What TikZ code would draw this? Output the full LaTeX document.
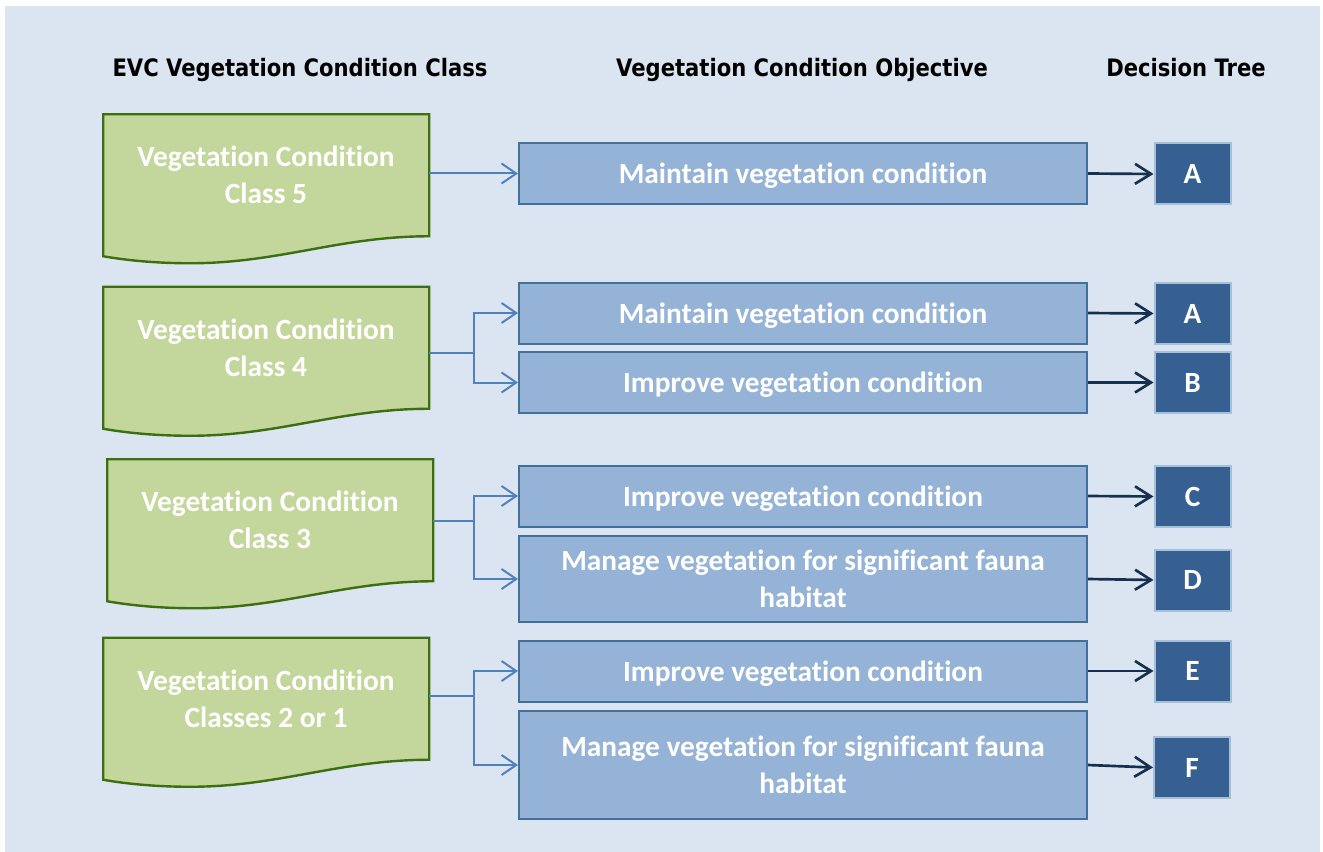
\documentclass[tikz,border=0pt]{standalone}
\usepackage{fontspec}
\setmainfont{Carlito}[Ligatures={NoCommon,NoContextual}]
\newfontfamily\headfont[FakeStretch=0.88]{DejaVu Sans}
\usetikzlibrary{arrows.meta,backgrounds}

\definecolor{bgblue}{HTML}{DBE5F1}
\definecolor{docfill}{HTML}{C3D69B}
\definecolor{docline}{HTML}{3D6E10}
\definecolor{objfill}{HTML}{95B3D7}
\definecolor{objline}{HTML}{41709A}
\definecolor{treefill}{HTML}{366092}
\definecolor{treeline}{HTML}{A5C1DA}
\definecolor{linkblue}{HTML}{4F81BD}
\definecolor{navy}{HTML}{17304F}

\tikzset{
  headtext/.style={anchor=base, font=\headfont\bfseries\fontsize{18}{21}\selectfont},
  boxtext/.style={text=white, inner sep=0pt, align=center,
    font=\bfseries\fontsize{22}{27.5}\selectfont},
  docnode/.style={boxtext, minimum width=244.5pt, minimum height=91.5pt},
  docshape/.style={draw=docline, line width=1.8pt, fill=docfill, line join=miter},
  objbox/.style={boxtext, draw=objline, line width=1.5pt, fill=objfill,
    minimum width=426pt, minimum height=45.75pt, text depth=0pt},
  treebox/.style={boxtext, draw=treeline, line width=1.5pt, fill=treefill,
    minimum width=57pt, minimum height=45.75pt},
  link/.style={draw=linkblue, line width=1.5pt,
    -{Straight Barb[length=11pt,width=15pt,line width=1.5pt]}},
  pick/.style={draw=navy, line width=2pt,
    -{Straight Barb[length=12pt,width=15pt,line width=2pt]}}
}

\begin{document}
\begin{tikzpicture}[x=0.75pt, y=-0.75pt]
  \useasboundingbox (0,0) rectangle (1323,852);
  \begin{pgfonlayer}{background}
    \fill[bgblue] (5,6) rectangle (1320,852);
  \end{pgfonlayer}

  % column heads
  \node[headtext] (hclass) at (300,77) {EVC Vegetation Condition Class};
  \node[headtext] (hobj)   at (802,77) {Vegetation Condition Objective};
  \node[headtext] (htree)  at (1186,77) {Decision Tree};

  % condition classes
  \node[docnode] (g5)  at (266,175)   {Vegetation Condition\\Class 5};
  \node[docnode] (g4)  at (266,347.5) {Vegetation Condition\\Class 4};
  \node[docnode] (g3)  at (270,520)   {Vegetation Condition\\Class 3};
  \node[docnode] (g21) at (266,698.5) {Vegetation Condition\\Classes 2 or 1};

  \foreach \g in {g5,g4,g3,g21}{
    \begin{pgfonlayer}{background}
      \begin{scope}[shift={(\g.south east)}]
        \draw[docshape] (0,0) -- (0,-122) -- (-326,-122) -- (-326,20)
          .. controls (-309,23) and (-279,27) .. (-239,27)
          .. controls (-150,27) and (-90,0) .. cycle;
      \end{scope}
    \end{pgfonlayer}
  }

  % objectives
  \node[objbox] (b1) at (803,173.5) {Maintain vegetation condition};
  \node[objbox] (b2) at (803,313)   {Maintain vegetation condition};
  \node[objbox] (b3) at (803,382.5) {Improve vegetation condition};
  \node[objbox] (b4) at (803,496)   {Improve vegetation condition};
  \node[objbox, minimum height=64.5pt] (b5) at (803,579)
    {Manage vegetation for significant fauna\\habitat};
  \node[objbox] (b6) at (803,671)   {Improve vegetation condition};
  \node[objbox, minimum height=81pt] (b7) at (803,765)
    {Manage vegetation for significant fauna\\habitat};

  % decision trees
  \node[treebox] (t1) at (1192.5,174)   {A};
  \node[treebox] (t2) at (1192.5,313.5) {A};
  \node[treebox] (t3) at (1192.5,382.5) {B};
  \node[treebox] (t4) at (1192.5,496.5) {C};
  \node[treebox] (t5) at (1192.5,580)   {D};
  \node[treebox] (t6) at (1192.5,671)   {E};
  \node[treebox] (t7) at (1192,767.5)   {F};

  % class -> objective
  \draw[link] (g5.east |- b1.west) -- (b1.west);
  \coordinate (j4) at (474,353);
  \coordinate (j3) at (474,521);
  \coordinate (j21) at (474,696);
  \draw[link] (g4.east |- j4) -- (j4) |- (b2.west);
  \draw[link] (j4) |- (b3.west);
  \draw[link] (g3.east |- j3) -- (j3) |- (b4.west);
  \draw[link] (j3) |- (b5.west);
  \draw[link] (g21.east |- j21) -- (j21) |- (b6.west);
  \draw[link] (j21) |- (b7.west);

  % objective -> tree
  \foreach \i in {1,...,7}
    \draw[pick] (b\i.east) -- (t\i.west);
\end{tikzpicture}
\end{document}
